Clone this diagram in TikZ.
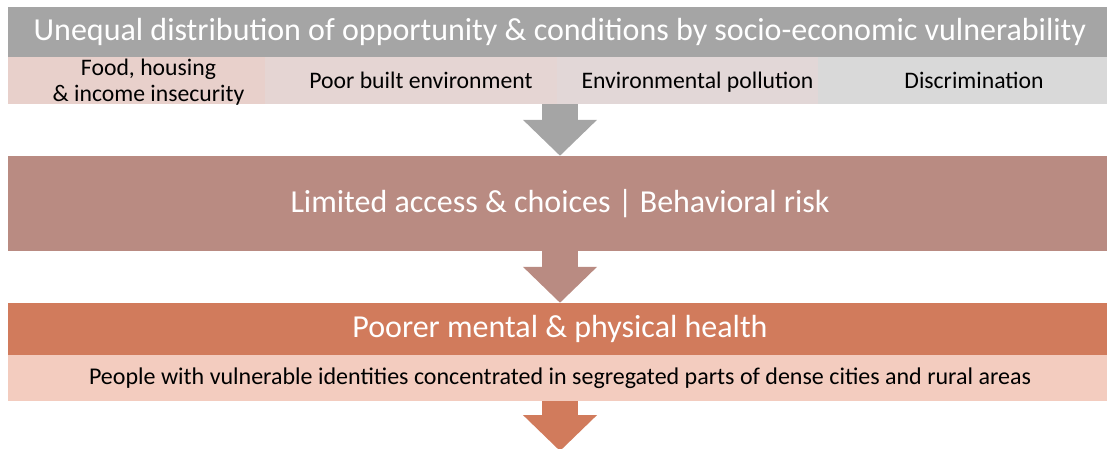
\documentclass[tikz,border=0pt]{standalone}
\usepackage{fontspec}
\setmainfont{Carlito}
\usetikzlibrary{arrows.meta}
\definecolor{bargray}{HTML}{A5A5A5}
\definecolor{cellpink}{HTML}{E8D0CB}
\definecolor{cellrose}{HTML}{E5D5D3}
\definecolor{cellmist}{HTML}{E2D7D7}
\definecolor{cellgray}{HTML}{D9D9D9}
\definecolor{limitbrown}{HTML}{B98B82}
\definecolor{healthorange}{HTML}{D17B5C}
\definecolor{peoplepink}{HTML}{F3CCBF}

\begin{document}
\begin{tikzpicture}[x=1pt, y=-1pt,
  band/.style={minimum width=1104pt, inner sep=0pt},
  headtext/.style={text=white, font=\fontsize{32}{36}\selectfont},
  cell/.style={minimum height=47pt, inner sep=0pt},
  celltext/.style={align=center, font=\fontsize{23.7}{26.5}\selectfont},
  oneline/.style={celltext, text height=17pt, text depth=5pt, yshift=-2pt},
  flow/.style={line width=36pt, -{Triangle[length=36pt,width=72pt]}}]

\useasboundingbox (0,0) rectangle (1107,448);

% top band and its four causes
\node[band, headtext, fill=bargray, minimum height=50pt] (unequal) at (560,32)
  {Unequal distribution of opportunity \& conditions by socio-economic vulnerability};

\node[cell, fill=cellpink, minimum width=257pt, label={[celltext, xshift=12pt, yshift=-1.5pt]center:{Food, housing\\\& income insecurity}}] (food) at (136.5,80.5) {};
\node[cell, fill=cellrose, minimum width=292pt, label={[oneline, xshift=10pt]center:Poor built environment}] (built) at (411,80.5) {};
\node[cell, fill=cellmist, minimum width=261pt, label={[oneline, xshift=10pt]center:Environmental pollution}] (pollution) at (687.5,80.5) {};
\node[cell, fill=cellgray, minimum width=294pt, label={[oneline, xshift=9pt]center:Discrimination}] (discrim) at (965,80.5) {};

% middle band
\node[band, headtext, fill=limitbrown, minimum height=95pt] (limited) at (560,203.5)
  {Limited access \& choices | Behavioral risk};

% bottom band
\node[band, headtext, fill=healthorange, minimum height=52pt] (health) at (560,329)
  {Poorer mental \& physical health};
\node[band, fill=peoplepink, minimum height=46pt, font=\fontsize{24}{26}\selectfont] (people) at (560,378)
  {People with vulnerable identities concentrated in segregated parts of dense cities and rural areas};

\coordinate (next) at (560,451);

% arrows
\draw[flow, bargray] (unequal.south |- pollution.south) -- (limited.north);
\draw[flow, limitbrown] (limited.south) -- (health.north);
\draw[flow, healthorange] (people.south) -- (next);

\end{tikzpicture}
\end{document}
